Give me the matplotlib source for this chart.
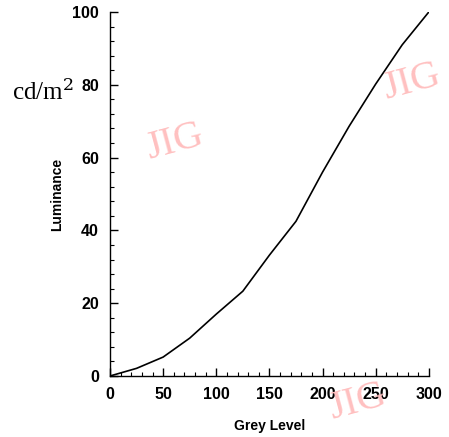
import matplotlib
matplotlib.use("Agg")
import matplotlib.pyplot as plt
from matplotlib.ticker import MultipleLocator

gray_level = [0, 25, 50, 75, 100, 125, 150, 175, 200, 225, 250, 275, 300]
luminance = [0, 2.1, 5.2, 10.4, 17.0, 23.3, 33.2, 42.5, 56.0, 68.6, 80.2, 91.0, 100]
x_ticks = [0, 50, 100, 150, 200, 250, 300]
y_ticks = [0, 20, 40, 60, 80, 100]

fig = plt.figure(figsize=(4.49, 4.37), dpi=100)
ax = fig.add_axes([0.245, 0.1396, 0.955 - 0.245, 0.9725 - 0.1396])
ax.plot(gray_level, luminance, color="black", lw=1.2)
ax.set_xlim(0, 300)
ax.set_ylim(0, 100)
ax.set_xticks(x_ticks)
ax.set_yticks(y_ticks)
ax.xaxis.set_minor_locator(MultipleLocator(10))
ax.yaxis.set_minor_locator(MultipleLocator(4))
for s in ["top", "right"]:
    ax.spines[s].set_visible(False)
for s in ["left", "bottom"]:
    ax.spines[s].set_linewidth(1.0)
ax.tick_params(which="major", direction="in", length=6, width=1.0, pad=8)
ax.tick_params(which="minor", direction="in", length=3, width=0.8)
for lab in ax.get_xticklabels() + ax.get_yticklabels():
    lab.set_fontfamily("Liberation Sans")
    lab.set_fontweight("bold")
    lab.set_fontsize(11.5)
ax.set_xlabel("Grey Level", fontfamily="Liberation Sans", fontsize=10, fontweight="bold", labelpad=12)
ax.set_ylabel("Luminance", fontfamily="Liberation Sans", fontsize=10, fontweight="bold", labelpad=6)

fig.text(0.027, 0.79, "cd/m$^2$", fontfamily="Liberation Serif", fontsize=18, va="center", ha="left",
         math_fontfamily="dejavuserif")

wm = dict(fontfamily="Liberation Serif", fontsize=29, color="#ffc0c0",
          rotation=15, ha="center", va="center")
fig.text(175 / 449, 1 - 142 / 437, "JIG", **wm)
fig.text(412 / 449, 1 - 82 / 437, "JIG", **wm)
fig.text(358 / 449, 1 - 402 / 437, "JIG", **wm)

fig.savefig("out.png", dpi=100)
